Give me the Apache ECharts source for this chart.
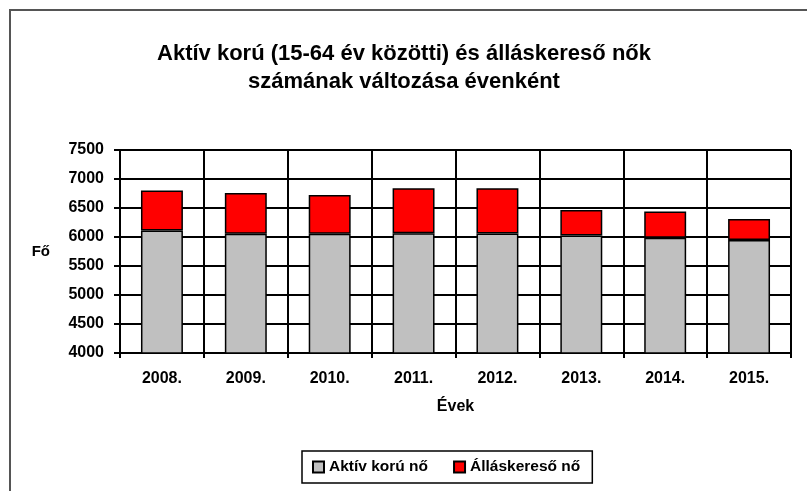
<!DOCTYPE html>
<html>
<head>
<meta charset="utf-8">
<script src="https://cdn.jsdelivr.net/npm/echarts@6/dist/echarts.min.js"></script>
<style>
  html, body { margin: 0; padding: 0; background: #fff; }
  #chart { width: 807px; height: 491px; }
</style>
</head>
<body>
<div id="chart"></div>
<script>
// adatok
const years = ["2008.", "2009.", "2010.", "2011.", "2012.", "2013.", "2014.", "2015."];
const aktivKoru = [6110, 6055, 6055, 6065, 6060, 6025, 5985, 5950];
const allaskereso = [690, 705, 670, 775, 780, 440, 455, 360];
const yTicks = { min: 4000, max: 7500, interval: 500 };

const FONT = "'Liberation Sans', Arial, sans-serif";
const chart = echarts.init(document.getElementById("chart"));

chart.setOption({
  animation: false,
  backgroundColor: "#fff",
  title: {
    text: "Aktív korú (15-64 év közötti) és álláskereső nők\nszámának változása évenként",
    left: 399,
    textAlign: "center",
    top: 35,
    textStyle: { fontFamily: FONT, fontSize: 22, fontWeight: "bold", color: "#000", lineHeight: 28 },
  },
  // külső keret (bal + felső vonal)
  graphic: [
    {
      type: "polyline",
      shape: { points: [[10, 491], [10, 10], [807, 10]] },
      style: { stroke: "#555", lineWidth: 2, fill: null },
      silent: true,
    },
  ],
  grid: { left: 120, right: 16, top: 150, bottom: 138 },
  legend: {
    data: ["Aktív korú nő", "Álláskereső nő"],
    left: 302,
    top: 451,
    padding: [8, 12, 8, 10],
    itemGap: 25,
    itemWidth: 11,
    itemHeight: 11,
    icon: "rect",
    borderColor: "#000",
    borderWidth: 1.5,
    selectedMode: false,
    textStyle: { fontFamily: FONT, fontSize: 15.5, fontWeight: "bold", color: "#000" },
  },
  xAxis: {
    type: "category",
    data: years,
    name: "Évek",
    nameLocation: "middle",
    nameGap: 46,
    nameTextStyle: { fontFamily: FONT, fontSize: 16, fontWeight: "bold", color: "#000" },
    axisLine: { lineStyle: { color: "#000", width: 2 } },
    axisTick: { show: true, length: 5, lineStyle: { color: "#000", width: 2 } },
    axisLabel: { margin: 18, fontFamily: FONT, fontSize: 16, fontWeight: "bold", color: "#000" },
    splitLine: { show: true, lineStyle: { color: "#000", width: 2 } },
  },
  yAxis: {
    type: "value",
    min: yTicks.min,
    max: yTicks.max,
    interval: yTicks.interval,
    name: "Fő",
    nameLocation: "middle",
    nameRotate: 0,
    nameGap: 70,
    nameTextStyle: { fontFamily: FONT, fontSize: 15, fontWeight: "bold", color: "#000" },
    axisLine: { show: true, lineStyle: { color: "#000", width: 2 } },
    axisTick: { show: true, length: 6, lineStyle: { color: "#000", width: 2 } },
    axisLabel: {
      margin: 16,
      formatter: (v) => String(v),
      fontFamily: FONT, fontSize: 16, fontWeight: "bold", color: "#000",
    },
    splitLine: { show: true, lineStyle: { color: "#000", width: 2 } },
  },
  series: [
    {
      name: "Aktív korú nő",
      type: "bar",
      stack: "total",
      data: aktivKoru,
      barWidth: "50%",
      clip: true,
      itemStyle: { color: "#C0C0C0", borderColor: "#000", borderWidth: 1.5 },
    },
    {
      name: "Álláskereső nő",
      type: "bar",
      stack: "total",
      data: allaskereso,
      barWidth: "50%",
      clip: true,
      itemStyle: { color: "#FF0000", borderColor: "#000", borderWidth: 1.5 },
    },
  ],
});
</script>
</body>
</html>
